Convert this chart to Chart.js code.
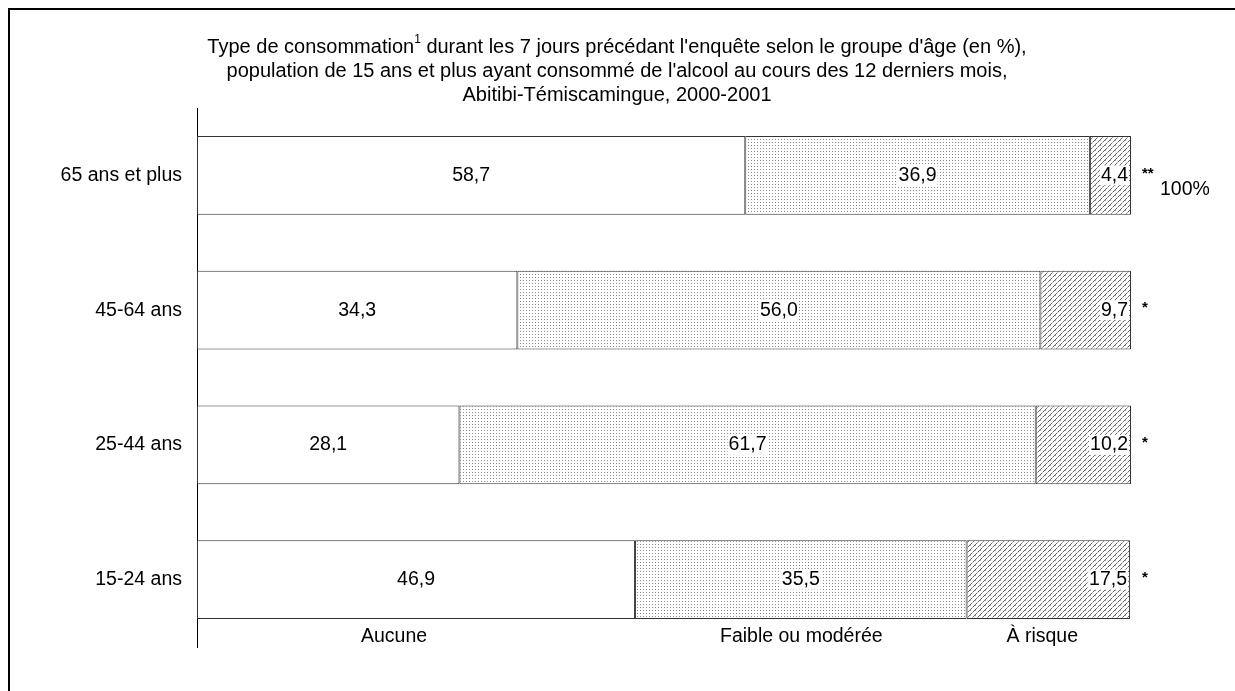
<!DOCTYPE html>
<html lang="fr">
<head>
    <meta charset="UTF-8">
    <title>Type de consommation selon le groupe d'âge</title>
    <script src="https://cdn.jsdelivr.net/npm/chart.js"></script>
    <style>
        body { margin: 0; background: #fff; }
        #frame {
            position: absolute; left: 8px; top: 8px; right: -10px; bottom: -10px;
            border-top: 2px solid #000; border-left: 2px solid #000;
        }
        #myChart { position: absolute; left: 0; top: 0; }
    </style>
</head>
<body>
    <div id="frame"></div>
    <canvas id="myChart" width="1235" height="691"></canvas>

    <script>
        // Data
        const groupes = ['65 ans et plus', '45-64 ans', '25-44 ans', '15-24 ans'];
        const aucune = [58.7, 34.3, 28.1, 46.9];
        const faible = [36.9, 56.0, 61.7, 35.5];
        const risque = [4.4, 9.7, 10.2, 17.5];
        const notes = ['**', '*', '*', '*'];
        const typeLabels = ['Aucune', 'Faible ou modérée', 'À risque'];
        const typeLabelPos = [21.1, 64.7, 90.5];

        const FONT = '"Liberation Sans", Arial, sans-serif';
        const SIZE = 19.5;

        // fill patterns
        function dotPattern() {
            const c = document.createElement('canvas');
            c.width = 3; c.height = 3;
            const g = c.getContext('2d');
            g.fillStyle = '#fff';
            g.fillRect(0, 0, 3, 3);
            g.fillStyle = '#8a8a8a';
            g.fillRect(1, 1, 1, 1);
            return g.createPattern(c, 'repeat');
        }
        function hatchPattern() {
            const c = document.createElement('canvas');
            c.width = 5; c.height = 5;
            const g = c.getContext('2d');
            g.fillStyle = '#fff';
            g.fillRect(0, 0, 5, 5);
            g.fillStyle = '#666';
            for (let i = 0; i < 5; i++) {
                g.fillRect(i, 4 - i, 1, 1);
            }
            g.fillStyle = '#aaa';
            g.fillRect(0, 0, 1, 1);
            g.fillRect(2, 2, 1, 1);
            return g.createPattern(c, 'repeat');
        }

        // Title with superscript
        const titlePlugin = {
            id: 'titre',
            afterDraw(chart) {
                const ctx = chart.ctx;
                const cx = 617;
                const f = '20px ' + FONT;
                const fs = '12px ' + FONT;
                ctx.save();
                ctx.fillStyle = '#000';
                ctx.textBaseline = 'middle';
                const a = 'Type de consommation';
                const b = ' durant les 7 jours précédant l\'enquête selon le groupe d\'âge (en %),';
                ctx.font = f;
                const wa = ctx.measureText(a).width, wb = ctx.measureText(b).width;
                ctx.font = fs;
                const ws = ctx.measureText('1').width;
                let x = cx - (wa + ws + wb) / 2;
                ctx.textAlign = 'left';
                ctx.font = f;
                ctx.fillText(a, x, 47);
                ctx.font = fs;
                ctx.fillText('1', x + wa, 40);
                ctx.font = f;
                ctx.fillText(b, x + wa + ws, 47);
                ctx.textAlign = 'center';
                ctx.fillText('population de 15 ans et plus ayant consommé de l\'alcool au cours des 12 derniers mois,', cx, 71);
                ctx.fillText('Abitibi-Témiscamingue, 2000-2001', cx, 95);
                ctx.restore();
            }
        };

        // Values, notes and type labels
        const labelPlugin = {
            id: 'etiquettes',
            afterDatasetsDraw(chart) {
                const ctx = chart.ctx;
                const xs = chart.scales.x;
                const area = chart.chartArea;
                ctx.save();
                ctx.font = SIZE + 'px ' + FONT;
                ctx.textBaseline = 'middle';
                chart.data.datasets.forEach((ds, di) => {
                    chart.getDatasetMeta(di).data.forEach((bar, i) => {
                        const txt = ds.data[i].toFixed(1).replace('.', ',');
                        const w = ctx.measureText(txt).width;
                        let tx;
                        if (di === 2) {
                            tx = bar.x - 3 - w / 2;
                        } else {
                            tx = (bar.x + bar.base) / 2;
                        }
                        ctx.fillStyle = '#fff';
                        ctx.fillRect(tx - w / 2 - 1, bar.y - 10, w + 2, 20);
                        ctx.fillStyle = '#000';
                        ctx.textAlign = 'center';
                        ctx.fillText(txt, tx, bar.y);
                    });
                });
                // notes next to the bars
                const meta = chart.getDatasetMeta(2);
                meta.data.forEach((bar, i) => {
                    ctx.font = 'bold 15px ' + FONT;
                    ctx.textAlign = 'left';
                    ctx.fillText(notes[i], area.right + 11, bar.y - 2);
                    if (i === 0) {
                        ctx.font = SIZE + 'px ' + FONT;
                        ctx.fillText('100%', area.right + 29, bar.y + 14);
                    }
                });
                ctx.font = SIZE + 'px ' + FONT;
                ctx.textAlign = 'center';
                typeLabels.forEach((t, k) => {
                    ctx.fillText(t, xs.getPixelForValue(typeLabelPos[k]), area.bottom - 10);
                });
                ctx.restore();
            }
        };

        const data = {
            labels: groupes,
            datasets: [
                { label: 'Aucune', data: aucune, backgroundColor: '#fff' },
                { label: 'Faible ou modérée', data: faible, backgroundColor: dotPattern() },
                { label: 'À risque', data: risque, backgroundColor: hatchPattern() }
            ]
        };
        data.datasets.forEach(ds => {
            ds.borderColor = '#333';
            ds.borderWidth = 1;
            ds.borderSkipped = false;
            ds.barPercentage = 0.585;
            ds.categoryPercentage = 1;
        });

        const config = {
            type: 'bar',
            data,
            options: {
                indexAxis: 'y',
                responsive: false,
                animation: false,
                layout: { padding: { top: 108, right: 104, bottom: 44, left: 0 } },
                scales: {
                    x: {
                        stacked: true, min: 0, max: 100, display: false
                    },
                    y: {
                        stacked: true,
                        grid: { display: false },
                        border: { display: true, color: '#000', width: 1 },
                        ticks: { color: '#000', font: { family: FONT, size: SIZE }, padding: 7 },
                        afterFit: s => { s.width = 197; }
                    }
                },
                plugins: {
                    legend: { display: false },
                    tooltip: { enabled: false }
                }
            },
            plugins: [titlePlugin, labelPlugin]
        };

        const myChart = new Chart(document.getElementById('myChart'), config);
    </script>
</body>
</html>
